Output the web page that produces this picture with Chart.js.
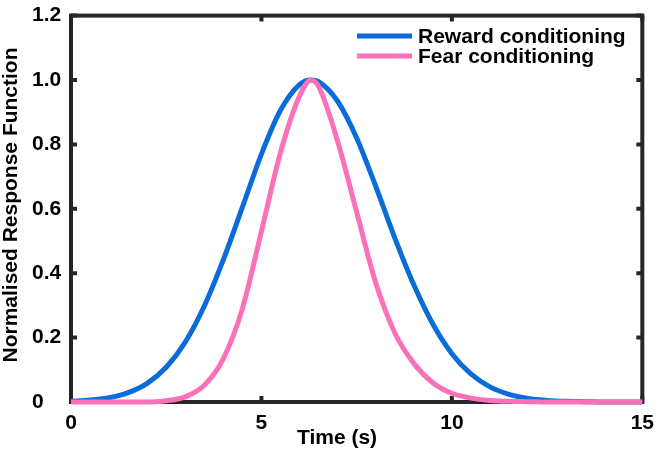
<!DOCTYPE html>
<html>
<head>
<meta charset="utf-8">
<script src="https://cdn.jsdelivr.net/npm/chart.js@4.4.1/dist/chart.umd.min.js"></script>
<style>
  html, body { margin: 0; padding: 0; background: #fff; }
  #wrap { width: 663px; height: 450px; }
</style>
</head>
<body>
<div id="wrap"><canvas id="hrf"></canvas></div>
<script>
// values
const timeValues   = [0, 0.5, 1, 1.5, 2, 2.5, 3, 3.5, 4, 4.5, 5, 5.5, 6, 6.3, 6.5, 7, 7.5, 8, 8.5, 9, 9.5, 10, 10.5, 11, 11.5, 12, 12.5, 13, 13.5, 14, 14.5, 15];
const rewardValues = [0.002, 0.006, 0.013, 0.029, 0.058, 0.108, 0.186, 0.298, 0.442, 0.605, 0.77, 0.906, 0.986, 1.0, 0.995, 0.934, 0.82, 0.67, 0.51, 0.364, 0.242, 0.150, 0.087, 0.047, 0.024, 0.011, 0.005, 0.002, 0.001, 0, 0, 0];
const fearValues   = [0, 0, 0, 0, 0, 0.004, 0.016, 0.052, 0.135, 0.29, 0.53, 0.775, 0.95, 1.0, 0.98, 0.81, 0.59, 0.37, 0.215, 0.12, 0.06, 0.027, 0.012, 0.005, 0.002, 0.001, 0, 0, 0, 0, 0, 0];
const seriesNames  = ['Reward conditioning', 'Fear conditioning'];
const xTicks = [0, 5, 10, 15];
const yTicks = [0, 0.2, 0.4, 0.6, 0.8, 1.0, 1.2];

const BLUE = '#0a6cd8';
const PINK = '#fb70b8';
const INK = '#262626';
const FONT = '"Liberation Sans", Arial, sans-serif';

function toPoints(ys) {
    return timeValues.map((t, i) => ({ x: t, y: ys[i] }));
}

// frame, inward ticks, titles and legend (MATLAB style)
const boxPlugin = {
    id: 'box',
    beforeDatasetsDraw(chart) {
        const { ctx, chartArea: a, scales } = chart;
        ctx.save();
        ctx.strokeStyle = INK;
        ctx.lineWidth = 4;
        ctx.strokeRect(a.left, a.top, a.right - a.left, a.bottom - a.top);
        const len = 6;
        ctx.lineWidth = 4;
        ctx.beginPath();
        xTicks.forEach(v => {
            const px = scales.x.getPixelForValue(v);
            ctx.moveTo(px, a.bottom); ctx.lineTo(px, a.bottom - len);
            ctx.moveTo(px, a.top); ctx.lineTo(px, a.top + len);
        });
        yTicks.forEach(v => {
            const py = scales.y.getPixelForValue(v);
            ctx.moveTo(a.left, py); ctx.lineTo(a.left + len, py);
            ctx.moveTo(a.right, py); ctx.lineTo(a.right - len, py);
        });
        ctx.stroke();
        ctx.restore();
    },
    afterDraw(chart) {
        const { ctx } = chart;
        ctx.save();
        ctx.fillStyle = '#000';
        ctx.font = 'bold 21px ' + FONT;
        ctx.textAlign = 'center';
        ctx.textBaseline = 'middle';
        ctx.fillText('Time (s)', 337, 438);
        ctx.translate(11, 205);
        ctx.rotate(-Math.PI / 2);
        ctx.fillText('Normalised Response Function', 0, 0);
        ctx.restore();

        // legend
        ctx.save();
        ctx.font = 'bold 21px ' + FONT;
        ctx.textAlign = 'left';
        ctx.textBaseline = 'middle';
        chart.data.datasets.forEach((ds, i) => {
            const y = 36 + i * 20;
            ctx.strokeStyle = ds.borderColor;
            ctx.lineWidth = 5;
            ctx.beginPath();
            ctx.moveTo(357, y); ctx.lineTo(412, y);
            ctx.stroke();
            ctx.fillStyle = '#000';
            ctx.fillText(ds.label, 418, y + 1);
        });
        ctx.restore();
    }
};

new Chart(document.getElementById('hrf'), {
    type: 'line',
    data: {
        datasets: [
            { label: seriesNames[0], data: toPoints(rewardValues), borderColor: BLUE, order: 2 },
            { label: seriesNames[1], data: toPoints(fearValues), borderColor: PINK, order: 1 }
        ]
    },
    options: {
        responsive: true,
        maintainAspectRatio: false,
        animation: false,
        devicePixelRatio: 1,
        layout: { padding: { left: 32, top: 7, right: 10, bottom: 0 } },
        elements: {
            line: { borderWidth: 5, cubicInterpolationMode: 'monotone', fill: false },
            point: { radius: 0 }
        },
        datasets: { line: { clip: false } },
        plugins: { legend: { display: false }, tooltip: { enabled: false } },
        scales: {
            x: {
                type: 'linear',
                min: 0, max: 15,
                grid: { display: false, drawTicks: false },
                border: { display: false },
                afterFit(s) { s.height = 48; },
                afterBuildTicks(s) { s.ticks = xTicks.map(v => ({ value: v })); },
                ticks: {
                    color: '#000',
                    padding: 9,
                    maxRotation: 0,
                    font: { family: FONT, size: 21, weight: 'bold' },
                    callback: v => String(v)
                }
            },
            y: {
                type: 'linear',
                min: 0, max: 1.2,
                grid: { display: false, drawTicks: false },
                border: { display: false },
                afterFit(s) { s.width = 39; },
                afterBuildTicks(s) { s.ticks = yTicks.map(v => ({ value: v })); },
                ticks: {
                    color: '#000',
                    crossAlign: 'far',
                    font: { family: FONT, size: 21, weight: 'bold' },
                    callback: v => (v === 0 ? '0' : v.toFixed(1))
                }
            }
        }
    },
    plugins: [boxPlugin]
});
</script>
</body>
</html>
